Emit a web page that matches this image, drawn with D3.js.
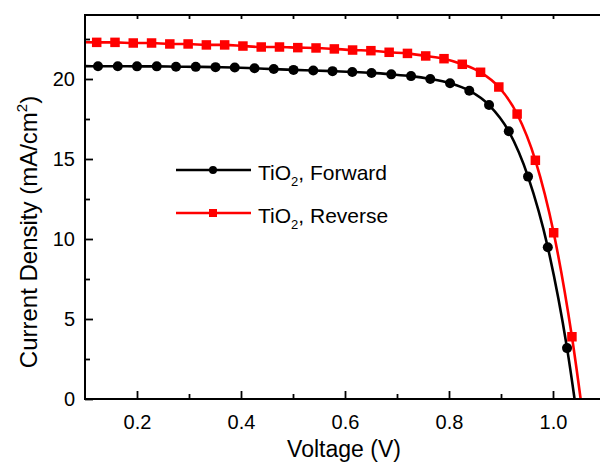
<!DOCTYPE html>
<html>
<head>
<meta charset="utf-8">
<script src="https://cdn.jsdelivr.net/npm/d3@7"></script>
<style>
  html, body { margin: 0; padding: 0; background: #fff; }
  svg { display: block; }
  text { font-family: "Liberation Sans", Arial, sans-serif; fill: #000; }
</style>
</head>
<body>
<svg id="chart" width="600" height="467"></svg>
<script>
// ---- data ----
const forwardV = [0.087, 0.125, 0.163, 0.200, 0.238, 0.275, 0.313, 0.351, 0.388, 0.426, 0.463,
                  0.501, 0.539, 0.576, 0.614, 0.651, 0.689, 0.727, 0.764, 0.802, 0.839,
                  0.877, 0.915, 0.952, 0.990, 1.027, 1.065];
const forwardJ = [20.81, 20.80, 20.80, 20.79, 20.79, 20.77, 20.76, 20.74, 20.72, 20.67, 20.62,
                  20.57, 20.53, 20.49, 20.44, 20.38, 20.29, 20.18, 20.00, 19.73, 19.27,
                  18.37, 16.73, 13.90, 9.48, 3.18, -5.7];
const reverseV = [0.0875, 0.1225, 0.1577, 0.1928, 0.2280, 0.2631, 0.2983, 0.3334, 0.3686, 0.4037,
                  0.4389, 0.4740, 0.5092, 0.5443, 0.5795, 0.6146, 0.6498, 0.6849, 0.7201,
                  0.7552, 0.7904, 0.8255, 0.8607, 0.8958, 0.9310, 0.9661, 1.0013, 1.0364, 1.0715];
const reverseJ = [22.31, 22.29, 22.29, 22.25, 22.25, 22.19, 22.19, 22.13, 22.13, 22.06,
                  22.00, 22.00, 21.96, 21.94, 21.88, 21.81, 21.77, 21.67, 21.60,
                  21.44, 21.27, 20.92, 20.42, 19.50, 17.81, 14.92, 10.39, 3.89, -4.6];
const seriesNames = ["Forward", "Reverse"];
const xMajorTicks = [0.2, 0.4, 0.6, 0.8, 1.0];
const xMinorTicks = [0.3, 0.5, 0.7, 0.9];
const xTopTicks = [0.2, 0.3, 0.4, 0.5, 0.6, 0.7, 0.8, 0.9, 1.0];
const yMajorTicks = [0, 5, 10, 15, 20];
const yMinorTicks = [2.5, 7.5, 12.5, 17.5, 22.5];

// ---- layout ----
const svg = d3.select("#chart");
const L = 85, R = 605, T = 15, B = 399;
const x = d3.scaleLinear().domain([0.1, 1.1]).range([L, R]);
const y = d3.scaleLinear().domain([0, 24]).range([B, T]);

svg.append("defs").append("clipPath").attr("id", "plotclip")
  .append("rect").attr("x", L).attr("y", T).attr("width", R - L).attr("height", B - T);

const fwd = forwardV.map((v, i) => ({v, j: forwardJ[i]}));
const rev = reverseV.map((v, i) => ({v, j: reverseJ[i]}));
const inside = d => d.v >= 0.1 && d.j >= 0;

const line = d3.line().x(d => x(d.v)).y(d => y(d.j)).curve(d3.curveMonotoneX);
const plot = svg.append("g").attr("clip-path", "url(#plotclip)");

// Reverse (red squares)
plot.append("path").datum(rev).attr("d", line)
  .attr("fill", "none").attr("stroke", "#ff0000").attr("stroke-width", 2.6);
const sq = 9.5;
plot.selectAll("rect.rev").data(rev.filter(inside)).join("rect").attr("class", "rev")
  .attr("x", d => x(d.v) - sq / 2).attr("y", d => y(d.j) - sq / 2)
  .attr("width", sq).attr("height", sq).attr("fill", "#ff0000");

// Forward (black circles)
plot.append("path").datum(fwd).attr("d", line)
  .attr("fill", "none").attr("stroke", "#000").attr("stroke-width", 2.6);
plot.selectAll("circle.fwd").data(fwd.filter(inside)).join("circle").attr("class", "fwd")
  .attr("cx", d => x(d.v)).attr("cy", d => y(d.j)).attr("r", 5).attr("fill", "#000");

// ---- axes ----
function styleAxis(g) {
  g.selectAll(".domain").remove();
  g.selectAll("line").attr("stroke", "#000").attr("stroke-width", 1.8);
  g.selectAll("text").style("font-family", '"Liberation Sans", Arial, sans-serif')
    .style("font-size", "20px").attr("fill", "#000");
}
svg.append("g").attr("transform", `translate(0,${B})`)
  .call(d3.axisBottom(x).tickValues(xMajorTicks).tickSize(-8).tickPadding(16)
        .tickFormat(d3.format(".1f")))
  .call(styleAxis);
svg.append("g").attr("transform", `translate(0,${B})`)
  .call(d3.axisBottom(x).tickValues(xMinorTicks).tickSize(-5).tickFormat(""))
  .call(styleAxis);
svg.append("g").attr("transform", `translate(0,${T})`)
  .call(d3.axisTop(x).tickValues(xTopTicks).tickSize(-4).tickFormat(""))
  .call(styleAxis);
svg.append("g").attr("transform", `translate(${L},0)`)
  .call(d3.axisLeft(y).tickValues(yMajorTicks).tickSize(-8).tickPadding(10)
        .tickFormat(d3.format("d")))
  .call(styleAxis);
svg.append("g").attr("transform", `translate(${L},0)`)
  .call(d3.axisLeft(y).tickValues(yMinorTicks).tickSize(-5).tickFormat(""))
  .call(styleAxis);

// frame lines (left, bottom, top)
svg.append("path")
  .attr("d", `M${R},${T}H${L}V${B}H${R}`)
  .attr("fill", "none").attr("stroke", "#000").attr("stroke-width", 2);

// ---- axis titles ----
svg.append("text").attr("x", 344).attr("y", 457)
  .attr("text-anchor", "middle").style("font-size", "23px").text("Voltage (V)");

const yl = svg.append("text")
  .attr("transform", "translate(37,232) rotate(-90)")
  .attr("text-anchor", "middle").style("font-size", "24px");
yl.append("tspan").text("Current Density (mA/cm");
yl.append("tspan").attr("dy", -10).style("font-size", "15px").text("2");
yl.append("tspan").attr("dy", 10).text(")");

// ---- legend ----
const legend = svg.append("g");
const legendItems = [
  {name: seriesNames[0], color: "#000", shape: "circle", yy: 170},
  {name: seriesNames[1], color: "#ff0000", shape: "square", yy: 213}
];
legendItems.forEach(it => {
  legend.append("line").attr("x1", 176).attr("x2", 251).attr("y1", it.yy).attr("y2", it.yy)
    .attr("stroke", it.color).attr("stroke-width", 2.6);
  if (it.shape === "circle") {
    legend.append("circle").attr("cx", 213).attr("cy", it.yy).attr("r", 4).attr("fill", it.color);
  } else {
    legend.append("rect").attr("x", 213 - 4).attr("y", it.yy - 4).attr("width", 8).attr("height", 8)
      .attr("fill", it.color);
  }
  const t = legend.append("text").attr("x", 258).attr("y", it.yy + 10).style("font-size", "21px");
  t.append("tspan").text("TiO");
  t.append("tspan").attr("dy", 6).style("font-size", "13px").text("2");
  t.append("tspan").attr("dy", -6).text(", " + it.name);
});
</script>
</body>
</html>
